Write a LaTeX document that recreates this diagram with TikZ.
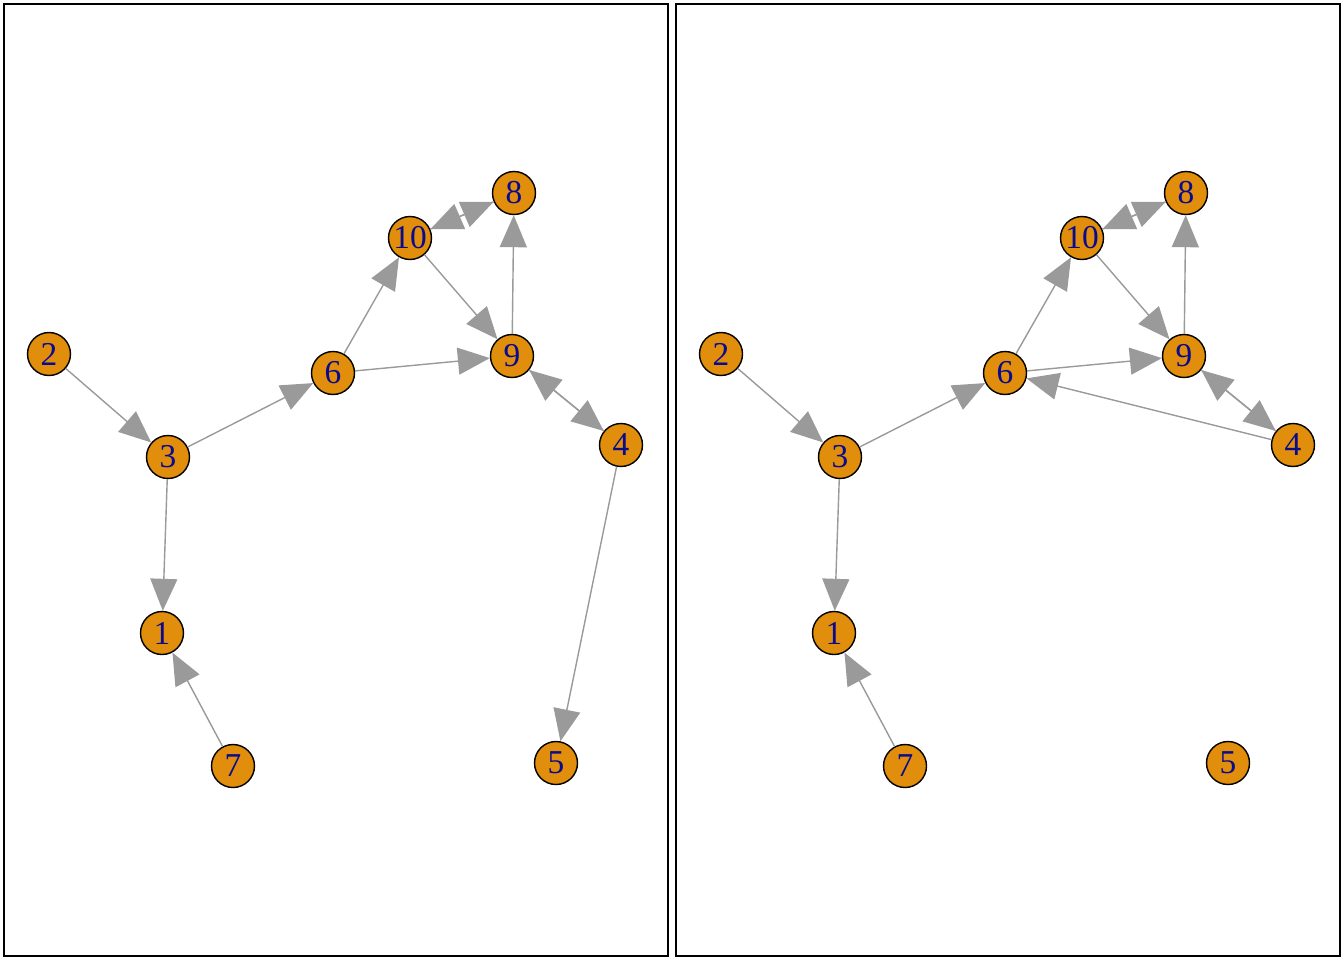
\documentclass[tikz,border=0pt]{standalone}
\usepackage{fontspec}
\setmainfont{Liberation Serif}
\usetikzlibrary{arrows.meta}

\definecolor{vertexorange}{RGB}{224,142,11}
\definecolor{edgegrey}{RGB}{154,154,154}
\definecolor{labelblue}{RGB}{10,10,140}

\begin{document}
\begin{tikzpicture}[x=0.02cm, y=-0.02cm,
	vertex/.style = {circle, draw = black, line width = 0.8pt, fill = vertexorange,
		minimum size = 0.86cm, inner sep = 0pt, text = labelblue,
		font = \fontsize{19}{19}\selectfont},
	edge/.style = {draw = edgegrey, line width = 0.8pt,
		-{Triangle[length = 0.64cm, width = 0.54cm, fill = edgegrey]}},
	panel/.style = {draw = black, line width = 1.1pt}]

	\useasboundingbox (0, 0) rectangle (1344, 960);

	% Two panels, same layout, right one shifted

	\foreach \p/\dx in {a/0, b/672} {

		\begin{scope}[shift = {(\dx, 0)}]

			\draw [panel] (4, 4) rectangle (668, 956);

			% Vertices

			\foreach \v/\x/\y in {1/162/633, 2/49/354, 3/168/457, 4/621/445, 5/556/763,
				6/333/373, 7/233/766, 8/514/193, 9/512/356, 10/410/238}
				\node [vertex] (\p\v) at (\x, \y) {\v};

			% Edges common to both graphs

			\foreach \s/\t in {2/3, 3/6, 3/1, 7/1, 6/10, 6/9, 10/9, 10/8, 8/10, 9/8, 9/4, 4/9}
				\draw [edge] (\p\s) -- (\p\t);

		\end{scope}

	}

	% Edge only in the left graph

	\draw [edge] (a4) -- (a5);

	% Edge only in the right graph

	\draw [edge] (b4) -- (b6);

\end{tikzpicture}
\end{document}
